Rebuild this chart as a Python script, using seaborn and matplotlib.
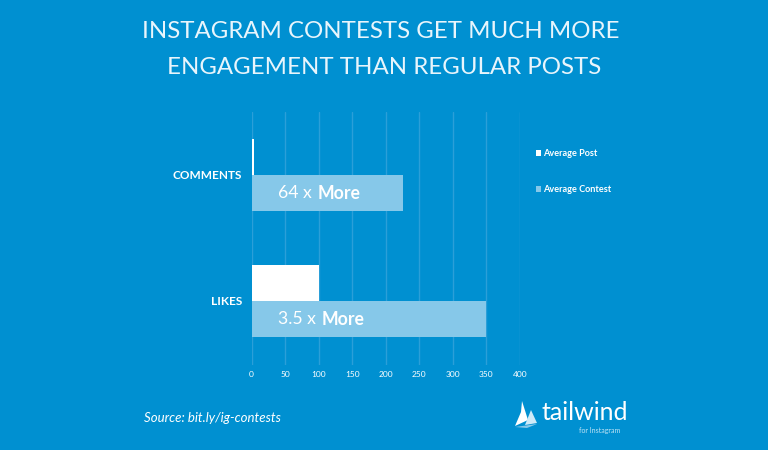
import matplotlib
matplotlib.use("Agg")
import matplotlib.pyplot as plt
import pandas as pd
import seaborn as sns
from matplotlib.patches import Polygon

# data
categories = ["COMMENTS", "LIKES"]
average_post = [3.5, 100]
average_contest = [225, 350]
multipliers = ["64 x", "3.5 x"]
series_names = ["Average Post", "Average Contest"]
x_ticks = [0, 50, 100, 150, 200, 250, 300, 350, 400]

BG = "#0090d1"
POST = "#ffffff"
CONTEST = "#86c8e9"
GRID = "#2b9fd8"

df = pd.DataFrame({
    "metric": categories * 2,
    "series": [series_names[0]] * 2 + [series_names[1]] * 2,
    "value": average_post + average_contest,
})

sns.set_style("white")
plt.rcParams["font.family"] = ["Lato", "DejaVu Sans"]

W, H = 768, 450
fig = plt.figure(figsize=(W / 100, H / 100), dpi=100, facecolor=BG)
ax = fig.add_axes([251.5 / W, 1 - 365 / H, 268.5 / W, 253 / H], facecolor=BG)

ax.xaxis.grid(True, color=GRID, lw=1)
ax.set_axisbelow(True)
sns.barplot(data=df, x="value", y="metric", hue="series", order=categories,
            hue_order=series_names, palette=[POST, CONTEST], width=0.57,
            saturation=1, dodge=True, linewidth=0, ax=ax)

ax.set_xlim(0, 400)
ax.set_ylim(1.508, -0.5)
ax.set_xticks(x_ticks)
ax.set_xlabel("")
ax.set_ylabel("")
sns.despine(ax=ax, left=True, bottom=True)
ax.tick_params(axis="x", length=0, pad=4.5, labelsize=6, colors="white")
ax.tick_params(axis="y", length=0, pad=7, labelsize=8.5, colors="white")
for lab in ax.get_yticklabels():
    lab.set_fontweight("bold")

# text inside the contest bars
for i, m in enumerate(multipliers):
    t = ax.annotate(m, xy=(0, i + 0.143), xycoords=("data", "data"),
                    xytext=(27, 0), textcoords="offset pixels",
                    color="white", fontsize=12.7, va="center", ha="left")
    ax.annotate("More", xy=(1, 0.5), xycoords=t, xytext=(5, 0),
                textcoords="offset pixels", color="white", fontsize=12.7,
                fontweight="bold", va="center", ha="left")

leg = ax.legend(loc="upper left", bbox_to_anchor=(536 / W, 1 - 149 / H),
                bbox_transform=fig.transFigure, frameon=False, fontsize=6.6,
                labelspacing=3.0, handlelength=0.55, handleheight=0.55,
                handletextpad=0.2, borderpad=0, borderaxespad=0)
for txt in leg.get_texts():
    txt.set_color("white")
    txt.set_fontweight("bold")

# title, source and logo
fig.text(381 / W, 1 - 32 / H, "INSTAGRAM CONTESTS GET MUCH MORE", color="#e8f5fc",
         fontsize=17.3, ha="center", va="center")
fig.text(384 / W, 1 - 68 / H, "ENGAGEMENT THAN REGULAR POSTS", color="#e8f5fc",
         fontsize=17.3, ha="center", va="center")
fig.text(144 / W, 1 - 418 / H, "Source: bit.ly/ig-contests", color="white",
         fontsize=9.5, style="italic", ha="left", va="center")
fig.text(541 / W, 1 - 413 / H, "tailwind", color="white", fontsize=18,
         ha="left", va="center")
fig.text(600 / W, 1 - 431 / H, "for Instagram", color="#bfe3f5", fontsize=5,
         ha="center", va="center")

sails = [
    ([(515, 426), (521, 412), (522, 401), (528, 420)], "#ffffff"),
    ([(525, 425), (531, 410), (537, 423)], "#cfeaf8"),
    ([(515, 427), (537, 424), (527, 428)], "#86c8e9"),
]
for pts, col in sails:
    fig.add_artist(Polygon([(x / W, 1 - y / H) for x, y in pts], closed=True,
                           transform=fig.transFigure, fc=col, ec="none"))

fig.savefig("out.png", dpi=100, facecolor=BG)
